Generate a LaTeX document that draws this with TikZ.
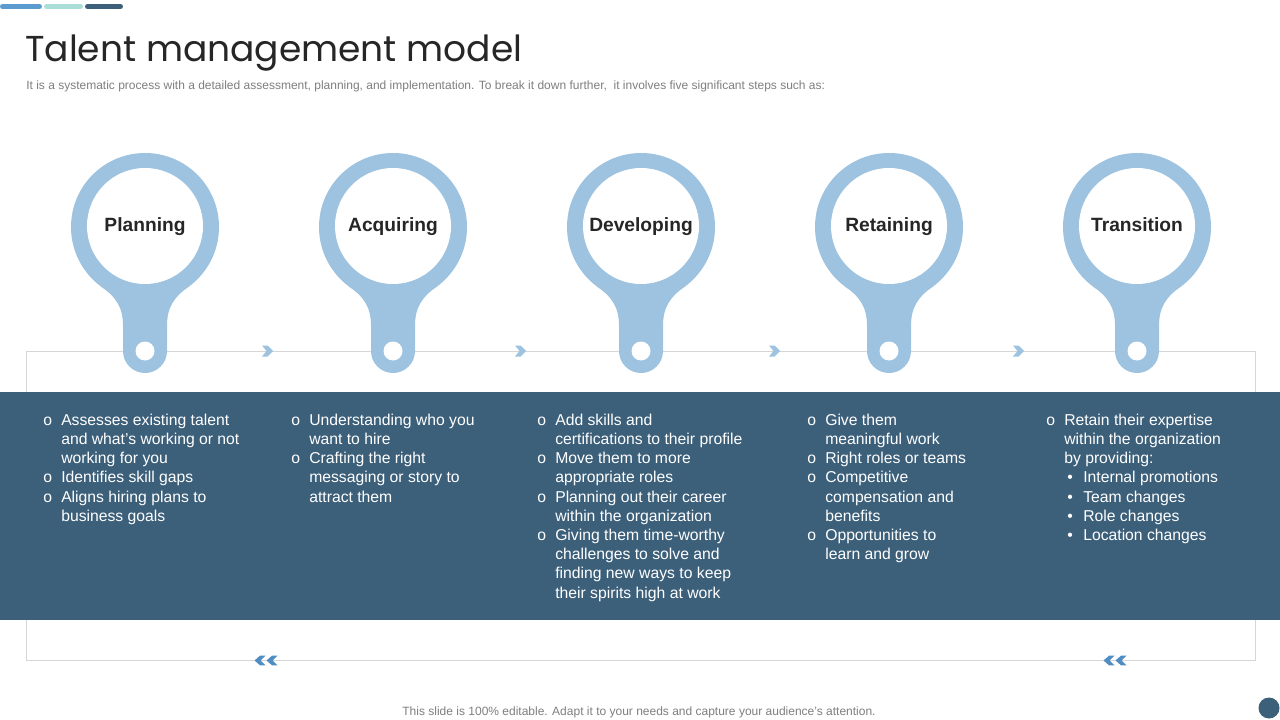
\documentclass[tikz,border=0pt]{standalone}
\usepackage{fontspec}
\setmainfont{Liberation Sans}
\newfontfamily\titlefont{Poppins}
\definecolor{pinblue}{HTML}{9DC3E0}
\definecolor{bandblue}{HTML}{3C5F7A}
\definecolor{midblue}{HTML}{4F8DC3}
\definecolor{barblue}{HTML}{5B9BCF}
\definecolor{barteal}{HTML}{A9DED9}
\definecolor{titlegray}{HTML}{262626}
\definecolor{subgray}{HTML}{7F7F7F}
\definecolor{boxgray}{HTML}{D6D6D6}
\newcommand\bl{\makebox[13.5pt][l]{o}}
\newcommand\ind{\hspace*{13.5pt}}
\newcommand\sbl{\hspace*{15.75pt}\makebox[12pt][l]{•}}
\tikzset{
  pinlabel/.style={font=\bfseries\fontsize{14.4}{17}\selectfont, text=titlegray, inner sep=0pt, anchor=base},
  coltext/.style={anchor=north west, align=left, inner sep=0pt, text=white,
    font=\fontsize{11.8}{14.4}\selectfont},
  smallgray/.style={inner sep=0pt, text=subgray, font=\fontsize{9}{11}\selectfont},
  chevr/.pic={\fill[pinblue] (-5,-5.5) -- (0.5,-5.5) -- (6,0) -- (0.5,5.5) -- (-5,5.5) -- (-0.5,0) -- cycle;},
  chevl/.pic={\fill[midblue] (5.5,-4.8) -- (0,-4.8) -- (-5.5,0) -- (0,4.8) -- (5.5,4.8) -- (0.5,0) -- cycle;},
}
\newcommand\pinshape[3]{%
  \begin{scope}[shift={(#1,0)}]
    \fill[pinblue] (0,227) circle[radius=74];
    \fill[pinblue] (-45,285.5) .. controls (-29,297) and (-22,307) .. (-22,326)
       -- (-22,351) -- (22,351) -- (22,326) .. controls (22,307) and (29,297) .. (45,285.5) -- cycle;
    \fill[pinblue] (0,351) circle[radius=22];
    \fill[white] (0,226) circle[radius=58];
    \fill[white] (0,351) circle[radius=9.5];
    \node[pinlabel] (#2) at (0,231.5) {#3};
  \end{scope}}
\begin{document}
\begin{tikzpicture}[x=0.75pt,y=-0.75pt]
\useasboundingbox (0,0) rectangle (1280,720);
\fill[white] (0,0) rectangle (1280,720);
% top bars
\draw[barblue, line width=3.75pt, line cap=round] (2.5,6.5) -- (39.5,6.5);
\draw[barteal, line width=3.75pt, line cap=round] (46.5,6.5) -- (80.5,6.5);
\draw[bandblue, line width=3.75pt, line cap=round] (87.5,6.5) -- (120.5,6.5);
% title
\node[anchor=base west, inner sep=0pt, text=titlegray, font=\titlefont\fontsize{27}{32}\selectfont] (title) at (25,62) {Talent management model};
\node[smallgray, anchor=base west] (subtitle) at (26,90) {It is a systematic process with a detailed assessment, planning, and implementation. To break it down further,\ \ it involves five significant steps such as:};
% frame line
\draw[boxgray, line width=0.75pt] (26,351) rectangle (1255,660);
% pins
\pinshape{145}{planning}{Planning}
\pinshape{393}{acquiring}{Acquiring}
\pinshape{641}{developing}{Developing}
\pinshape{889}{retaining}{Retaining}
\pinshape{1137}{transition}{Transition}
% chevrons
\pic at (267,351) {chevr};
\pic at (520,351) {chevr};
\pic at (774,351) {chevr};
\pic at (1018,351) {chevr};
\pic at (260,660.5) {chevl};
\pic at (272,660.5) {chevl};
\pic at (1109,660.5) {chevl};
\pic at (1121,660.5) {chevl};
% band
\fill[bandblue] (0,392) rectangle (1280,620);
% columns
\node[coltext] (c1) at (43,413.7) {\bl Assesses existing talent\\ \ind and what’s working or not\\ \ind working for you\\ \bl Identifies skill gaps\\ \bl Aligns hiring plans to\\ \ind business goals};
\node[coltext] (c2) at (291,413.7) {\bl Understanding who you\\ \ind want to hire\\ \bl Crafting the right\\ \ind messaging or story to\\ \ind attract them};
\node[coltext] (c3) at (537,413.7) {\bl Add skills and\\ \ind certifications to their profile\\ \bl Move them to more\\ \ind appropriate roles\\ \bl Planning out their career\\ \ind within the organization\\ \bl Giving them time-worthy\\ \ind challenges to solve and\\ \ind finding new ways to keep\\ \ind their spirits high at work};
\node[coltext] (c4) at (807,413.7) {\bl Give them\\ \ind meaningful work\\ \bl Right roles or teams\\ \bl Competitive\\ \ind compensation and\\ \ind benefits\\ \bl Opportunities to\\ \ind learn and grow};
\node[coltext] (c5) at (1046,413.7) {\bl Retain their expertise\\ \ind within the organization\\ \ind by providing:\\ \sbl Internal promotions\\ \sbl Team changes\\ \sbl Role changes\\ \sbl Location changes};
% footer
\node[smallgray, anchor=base] (footer) at (639,715) {This slide is 100\% editable. Adapt it to your needs and capture your audience’s attention.};
\fill[bandblue] (1269,708) circle[radius=10.5];
\end{tikzpicture}
\end{document}
